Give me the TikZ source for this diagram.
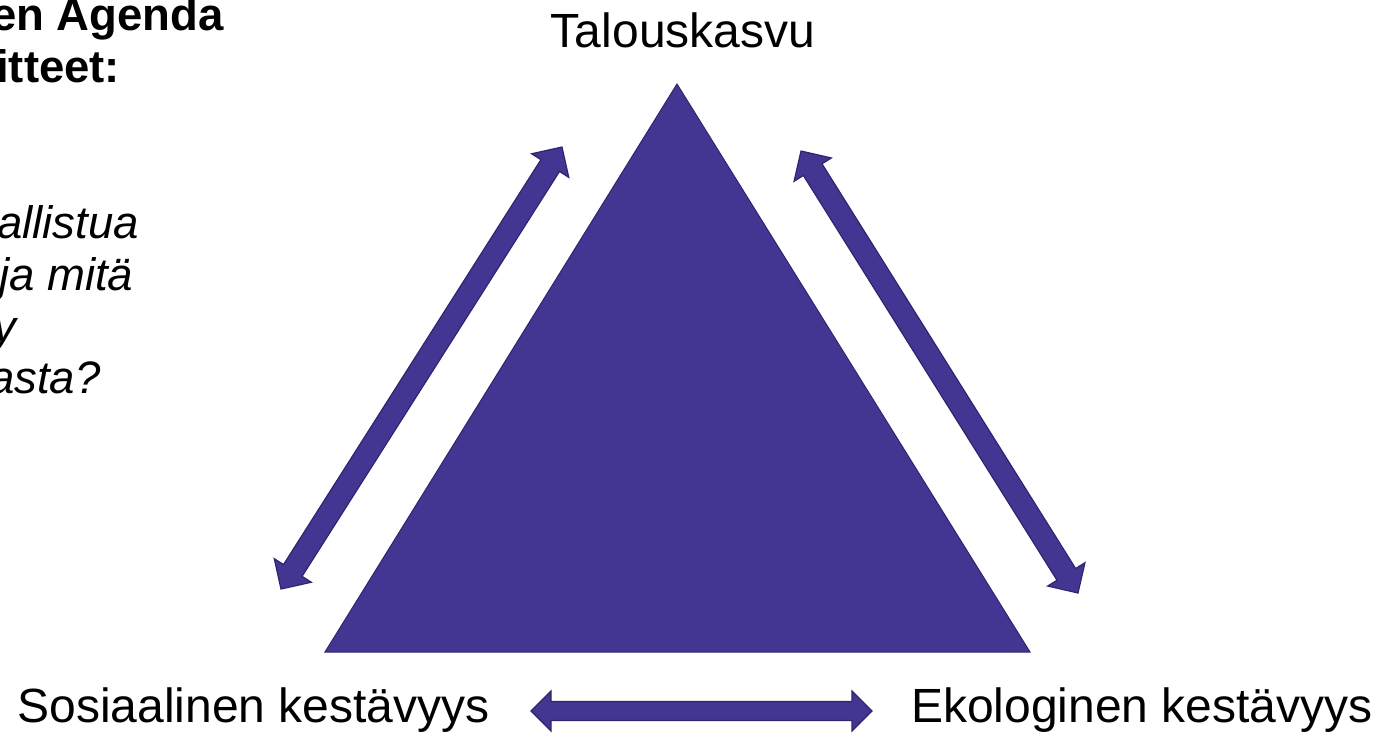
\documentclass[tikz,border=0pt]{standalone}
\usepackage{fontspec}
\setmainfont{Liberation Sans}
\usetikzlibrary{calc,positioning}
\definecolor{agenda}{HTML}{433692}
\definecolor{agendaline}{HTML}{2E2570}
\tikzset{label it/.style={inner sep=0pt, font=\fontsize{48}{52}\selectfont}}
\tikzset{side it/.style={inner sep=0pt, anchor=base west, font=\fontsize{45.5}{52}\selectfont#1}}
% #1 head length, #2 half width of head, #3 half width of shaft
\tikzset{twoway/.style n args={3}{fill=agenda, draw=agendaline, line width=1.2pt,
  to path={(\tikztostart)
    -- ($(\tikztostart)!#1!(\tikztotarget)!#2!90:(\tikztotarget)$)
    -- ($(\tikztostart)!#1!(\tikztotarget)!#3!90:(\tikztotarget)$)
    -- ($(\tikztotarget)!#1!(\tikztostart)!#3!-90:(\tikztostart)$)
    -- ($(\tikztotarget)!#1!(\tikztostart)!#2!-90:(\tikztostart)$)
    -- (\tikztotarget)
    -- ($(\tikztotarget)!#1!(\tikztostart)!#2!90:(\tikztostart)$)
    -- ($(\tikztotarget)!#1!(\tikztostart)!#3!90:(\tikztostart)$)
    -- ($(\tikztostart)!#1!(\tikztotarget)!#3!-90:(\tikztotarget)$)
    -- ($(\tikztostart)!#1!(\tikztotarget)!#2!-90:(\tikztotarget)$)
    -- cycle}}}

\begin{document}
\begin{tikzpicture}[x=1pt,y=-1pt]
  \useasboundingbox (0,0) rectangle (1382,734);
  \clip (0,0) rectangle (1382,734);
  % triangle
  \coordinate (apex) at (677,84);
  \coordinate (base-l) at (325,652);
  \coordinate (base-r) at (1030,652);
  \draw[fill=agenda, draw=agendaline, line width=1pt] (base-l) -- (apex) -- (base-r) -- cycle;
  % labels
  \node[label it, anchor=base] (growth) at (683,47) {Talouskasvu};
  \node[label it, anchor=base east] (social) at (490,722) {Sosiaalinen kestävyys};
  \node[label it, anchor=base west] (eco) at (911,722) {Ekologinen kestävyys};
  % text cut at the left margin
  \node[side it=\bfseries] (aim1) at (-9,30) {en Agenda};
  \node[side it=\bfseries] (aim2) at (-4,82) {itteet:};
  \node[side it=\itshape] (ask1) at (-3,238) {allistua};
  \node[side it=\itshape] (ask2) at (-1,290) {ja mitä};
  \node[side it=\itshape] (ask3) at (-7,342) {y};
  \node[side it=\itshape] (ask4) at (-11,393) {asta?};
  % arrows
  \coordinate (lo-l) at (281,589);
  \coordinate (hi-l) at (562,147);
  \coordinate (hi-r) at (801,151);
  \coordinate (lo-r) at (1078,593);
  \coordinate (mid-l) at (531,711);
  \coordinate (mid-r) at (872,711);
  \draw[twoway={22pt}{22pt}{11pt}] (lo-l) to (hi-l);
  \draw[twoway={22pt}{22pt}{11pt}] (hi-r) to (lo-r);
  \draw[twoway={20pt}{20pt}{9.5pt}] (mid-l) to (mid-r);
\end{tikzpicture}
\end{document}
